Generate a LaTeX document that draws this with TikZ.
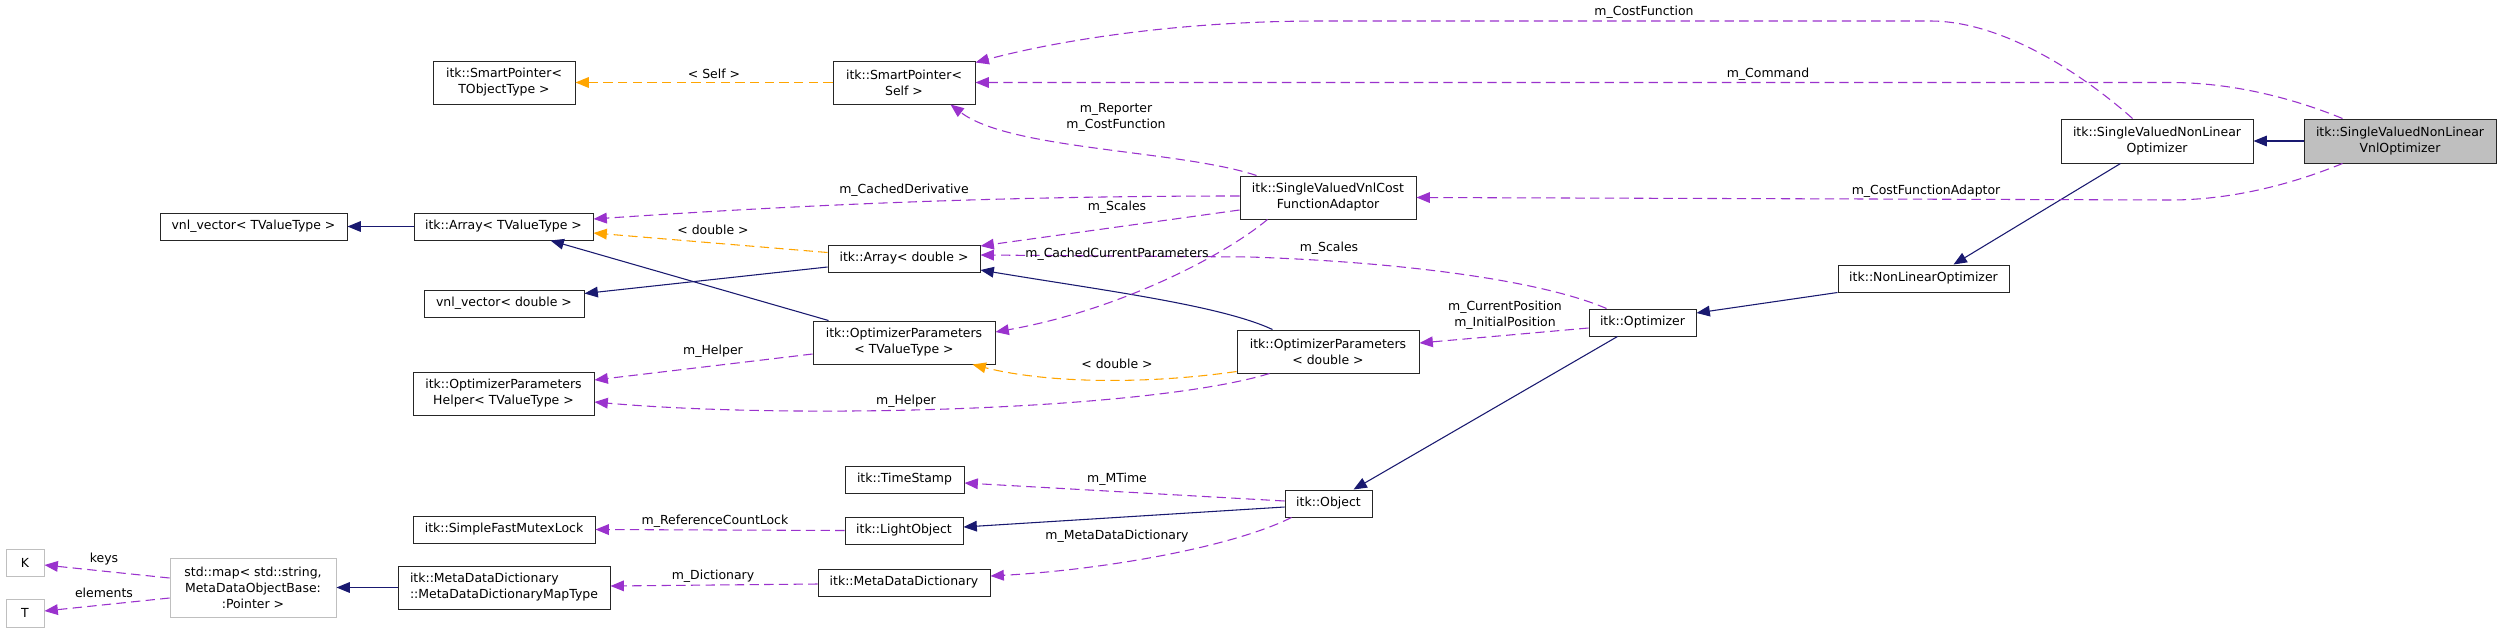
\documentclass[tikz,border=0pt]{standalone}
\usepackage{fontspec}
\setmainfont{DejaVu Sans}
\usetikzlibrary{arrows.meta,calc}
\definecolor{navy}{HTML}{191970}
\definecolor{purp}{HTML}{9A32CD}
\definecolor{orng}{HTML}{FFA500}
\definecolor{gfill}{HTML}{BFBFBF}
\definecolor{gline}{HTML}{BFBFBF}
\begin{document}
\begin{tikzpicture}[x=0.75pt,y=-0.75pt,
  font=\fontsize{9.35}{12}\selectfont,
  cls/.style={draw=black!85, line width=0.75pt, fill=white, inner sep=0pt, align=center},
  ext/.style={cls, draw=gline},
  wh/.style 2 args={minimum width=#1*0.75pt, minimum height=#2*0.75pt},
  lbl/.style={inner sep=0pt, align=center},
  tip/.style={-{Triangle[length=10pt,width=8pt]}},
  inh/.style={draw=navy, line width=0.8pt, tip},
  use/.style={draw=purp, line width=0.8pt, dash pattern=on 7pt off 4pt, tip},
  tmpl/.style={draw=orng, line width=0.8pt, dash pattern=on 7pt off 4pt, tip},
]
\useasboundingbox (0,0) rectangle (2501,632);
\fill[white] (0,0) rectangle (2501,632);

% nodes
\node[cls, wh={142}{43}] (spT) at (504,82.5) {itk::SmartPointer<\\TObjectType >};
\node[cls, wh={142}{43}] (spS) at (904,82.5) {itk::SmartPointer<\\Self >};
\node[cls, wh={176}{43}] (cfa) at (1328,197.5) {itk::SingleValuedVnlCost\\FunctionAdaptor};
\node[cls, wh={192}{44}] (svnlo) at (2157,141) {itk::SingleValuedNonLinear\\Optimizer};
\node[cls, fill=gfill, wh={192}{44}] (gray) at (2400,141) {itk::SingleValuedNonLinear\\VnlOptimizer};
\node[cls, wh={171}{27}] (nlo) at (1923.5,278.5) {itk::NonLinearOptimizer};
\node[cls, wh={187}{27}] (vnlT) at (253.5,226.5) {vnl\_vector< TValueType >};
\node[cls, wh={179}{27}] (arrT) at (503.5,226.5) {itk::Array< TValueType >};
\node[cls, wh={152}{27}] (arrD) at (904,258.5) {itk::Array< double >};
\node[cls, wh={160}{27}] (vnlD) at (504,303.5) {vnl\_vector< double >};
\node[cls, wh={182}{43}] (opT) at (904,342.5) {itk::OptimizerParameters\\< TValueType >};
\node[cls, wh={182}{43}] (opD) at (1328,351.5) {itk::OptimizerParameters\\< double >};
\node[cls, wh={107}{27}] (opt) at (1642.5,322.5) {itk::Optimizer};
\node[cls, wh={181}{43}] (helper) at (503.5,393.5) {itk::OptimizerParameters\\Helper< TValueType >};
\node[cls, wh={119}{27}] (ts) at (904.5,479.5) {itk::TimeStamp};
\node[cls, wh={182}{27}] (mutex) at (504,529.5) {itk::SimpleFastMutexLock};
\node[cls, wh={118}{27}] (light) at (904,530.5) {itk::LightObject};
\node[cls, wh={87}{27}] (obj) at (1328.5,503.5) {itk::Object};
\node[cls, align=left, wh={212}{43}] (mapT) at (504,587.5) {itk::MetaDataDictionary\\::MetaDataDictionaryMapType};
\node[cls, wh={172}{27}] (mdd) at (904,582.5) {itk::MetaDataDictionary};
\node[ext, wh={166}{59}] (map) at (253,587.5) {std::map< std::string,\\MetaDataObjectBase:\\:Pointer >};
\node[ext, wh={38}{27}] (K) at (25,562.5) {K};
\node[ext, wh={38}{28}] (T) at (25,613) {T};

% inheritance
\draw[inh] (gray.west) -- (svnlo.east);
\draw[inh] ($(svnlo.south west)+(60,0)$) -- ($(nlo.north west)+(116,0)$);
\draw[inh] (nlo.south west) -- ($(opt.east)+(0,-9.5)$);
\draw[inh] ($(opt.south west)+(29,0)$) -- ($(obj.north west)+(69,0)$);
\draw[inh] ($(obj.west)+(0,3.5)$) -- ($(light.east)+(0,-3.5)$);
\draw[inh] (arrT.west) -- (vnlT.east);
\draw[inh] ($(arrD.west)+(0,8.5)$) -- ($(vnlD.east)+(0,-10)$);
\draw[inh] ($(opT.north west)+(16,0)$) -- ($(arrT.south west)+(137,0)$);
\draw[inh] ($(opD.north west)+(36,0)$) .. controls (1220,305) and (1100,290) .. ($(arrD.east)+(0,11.5)$);
\draw[inh] (mapT.west) -- (map.east);

% template instances
\draw[tmpl] (spS.west) -- (spT.east);
\draw[tmpl] ($(arrD.west)+(0,-6)$) -- ($(arrT.east)+(0,6.5)$);
\draw[tmpl] ($(opD.west)+(0,20)$) .. controls (1150,384) and (1050,384) .. ($(opT.south east)+(-23,0)$);

% usage
\draw[use] ($(svnlo.north west)+(72,0)$) .. controls (2095,85) and (2010,21) .. (1930,21) -- (1320,21) .. controls (1180,21) and (1060,40) .. ($(spS.north east)+(0,2)$);
\draw[use] ($(gray.north west)+(39,0)$) .. controls (2290,97) and (2230,82.5) .. (2170,82.5) -- (spS.east);
\draw[use] ($(cfa.north west)+(17,0)$) .. controls (1180,150) and (1010,150) .. ($(spS.south east)+(-25,0)$);
\draw[use] ($(gray.south west)+(39,0)$) .. controls (2290,185) and (2230,200) .. (2170,200) -- (cfa.east);
\draw[use] ($(cfa.west)+(0,-1.5)$) .. controls (1000,196) and (800,205) .. ($(arrT.east)+(0,-7.5)$);
\draw[use] ($(cfa.west)+(0,12.5)$) -- ($(arrD.east)+(0,-12.5)$);
\draw[use] ($(cfa.south west)+(28,0)$) .. controls (1225,255) and (1120,310) .. ($(opT.east)+(0,-10.5)$);
\draw[use] ($(opt.north west)+(18,0)$) .. controls (1540,280) and (1400,262) .. (1250,257) -- ($(arrD.east)+(0,-3.5)$);
\draw[use] ($(opt.west)+(0,5.5)$) -- ($(opD.east)+(0,-8.5)$);
\draw[use] ($(opT.west)+(0,11.5)$) -- ($(helper.east)+(0,-13.5)$);
\draw[use] ($(opD.south west)+(33,0)$) .. controls (1150,410) and (800,420) .. ($(helper.east)+(0,8.5)$);
\draw[use] ($(obj.west)+(0,-2.5)$) -- ($(ts.east)+(0,3.5)$);
\draw[use] (light.west) -- (mutex.east);
\draw[use] ($(obj.south west)+(7,0)$) .. controls (1230,548) and (1100,570) .. ($(mdd.east)+(0,-6.5)$);
\draw[use] ($(mdd.west)+(0,1.5)$) -- ($(mapT.east)+(0,-1.5)$);
\draw[use] ($(map.west)+(0,-9.5)$) -- ($(K.east)+(0,2.5)$);
\draw[use] ($(map.west)+(0,10.5)$) -- ($(T.east)+(0,-2)$);

% labels
\node[lbl] (l1) at (714,74) {< Self >};
\node[lbl] (l2) at (1644,12) {m\_CostFunction};
\node[lbl] (l3) at (1768,74) {m\_Command};
\node[lbl] (l4) at (1116,117) {m\_Reporter\\m\_CostFunction};
\node[lbl] (l5) at (904,190) {m\_CachedDerivative};
\node[lbl] (l6) at (1117,207) {m\_Scales};
\node[lbl] (l7) at (713,230) {< double >};
\node[lbl] (l8) at (1117,254) {m\_CachedCurrentParameters};
\node[lbl] (l9) at (1329,248) {m\_Scales};
\node[lbl] (l10) at (1926,191) {m\_CostFunctionAdaptor};
\node[lbl] (l11) at (1505,315) {m\_CurrentPosition\\m\_InitialPosition};
\node[lbl] (l12) at (1117,364) {< double >};
\node[lbl] (l13) at (713,351) {m\_Helper};
\node[lbl] (l14) at (906,401) {m\_Helper};
\node[lbl] (l15) at (1117,479) {m\_MTime};
\node[lbl] (l16) at (715,521) {m\_ReferenceCountLock};
\node[lbl] (l17) at (1117,536) {m\_MetaDataDictionary};
\node[lbl] (l18) at (713,576) {m\_Dictionary};
\node[lbl] (l19) at (104,559) {keys};
\node[lbl] (l20) at (104,593) {elements};
\end{tikzpicture}
\end{document}
